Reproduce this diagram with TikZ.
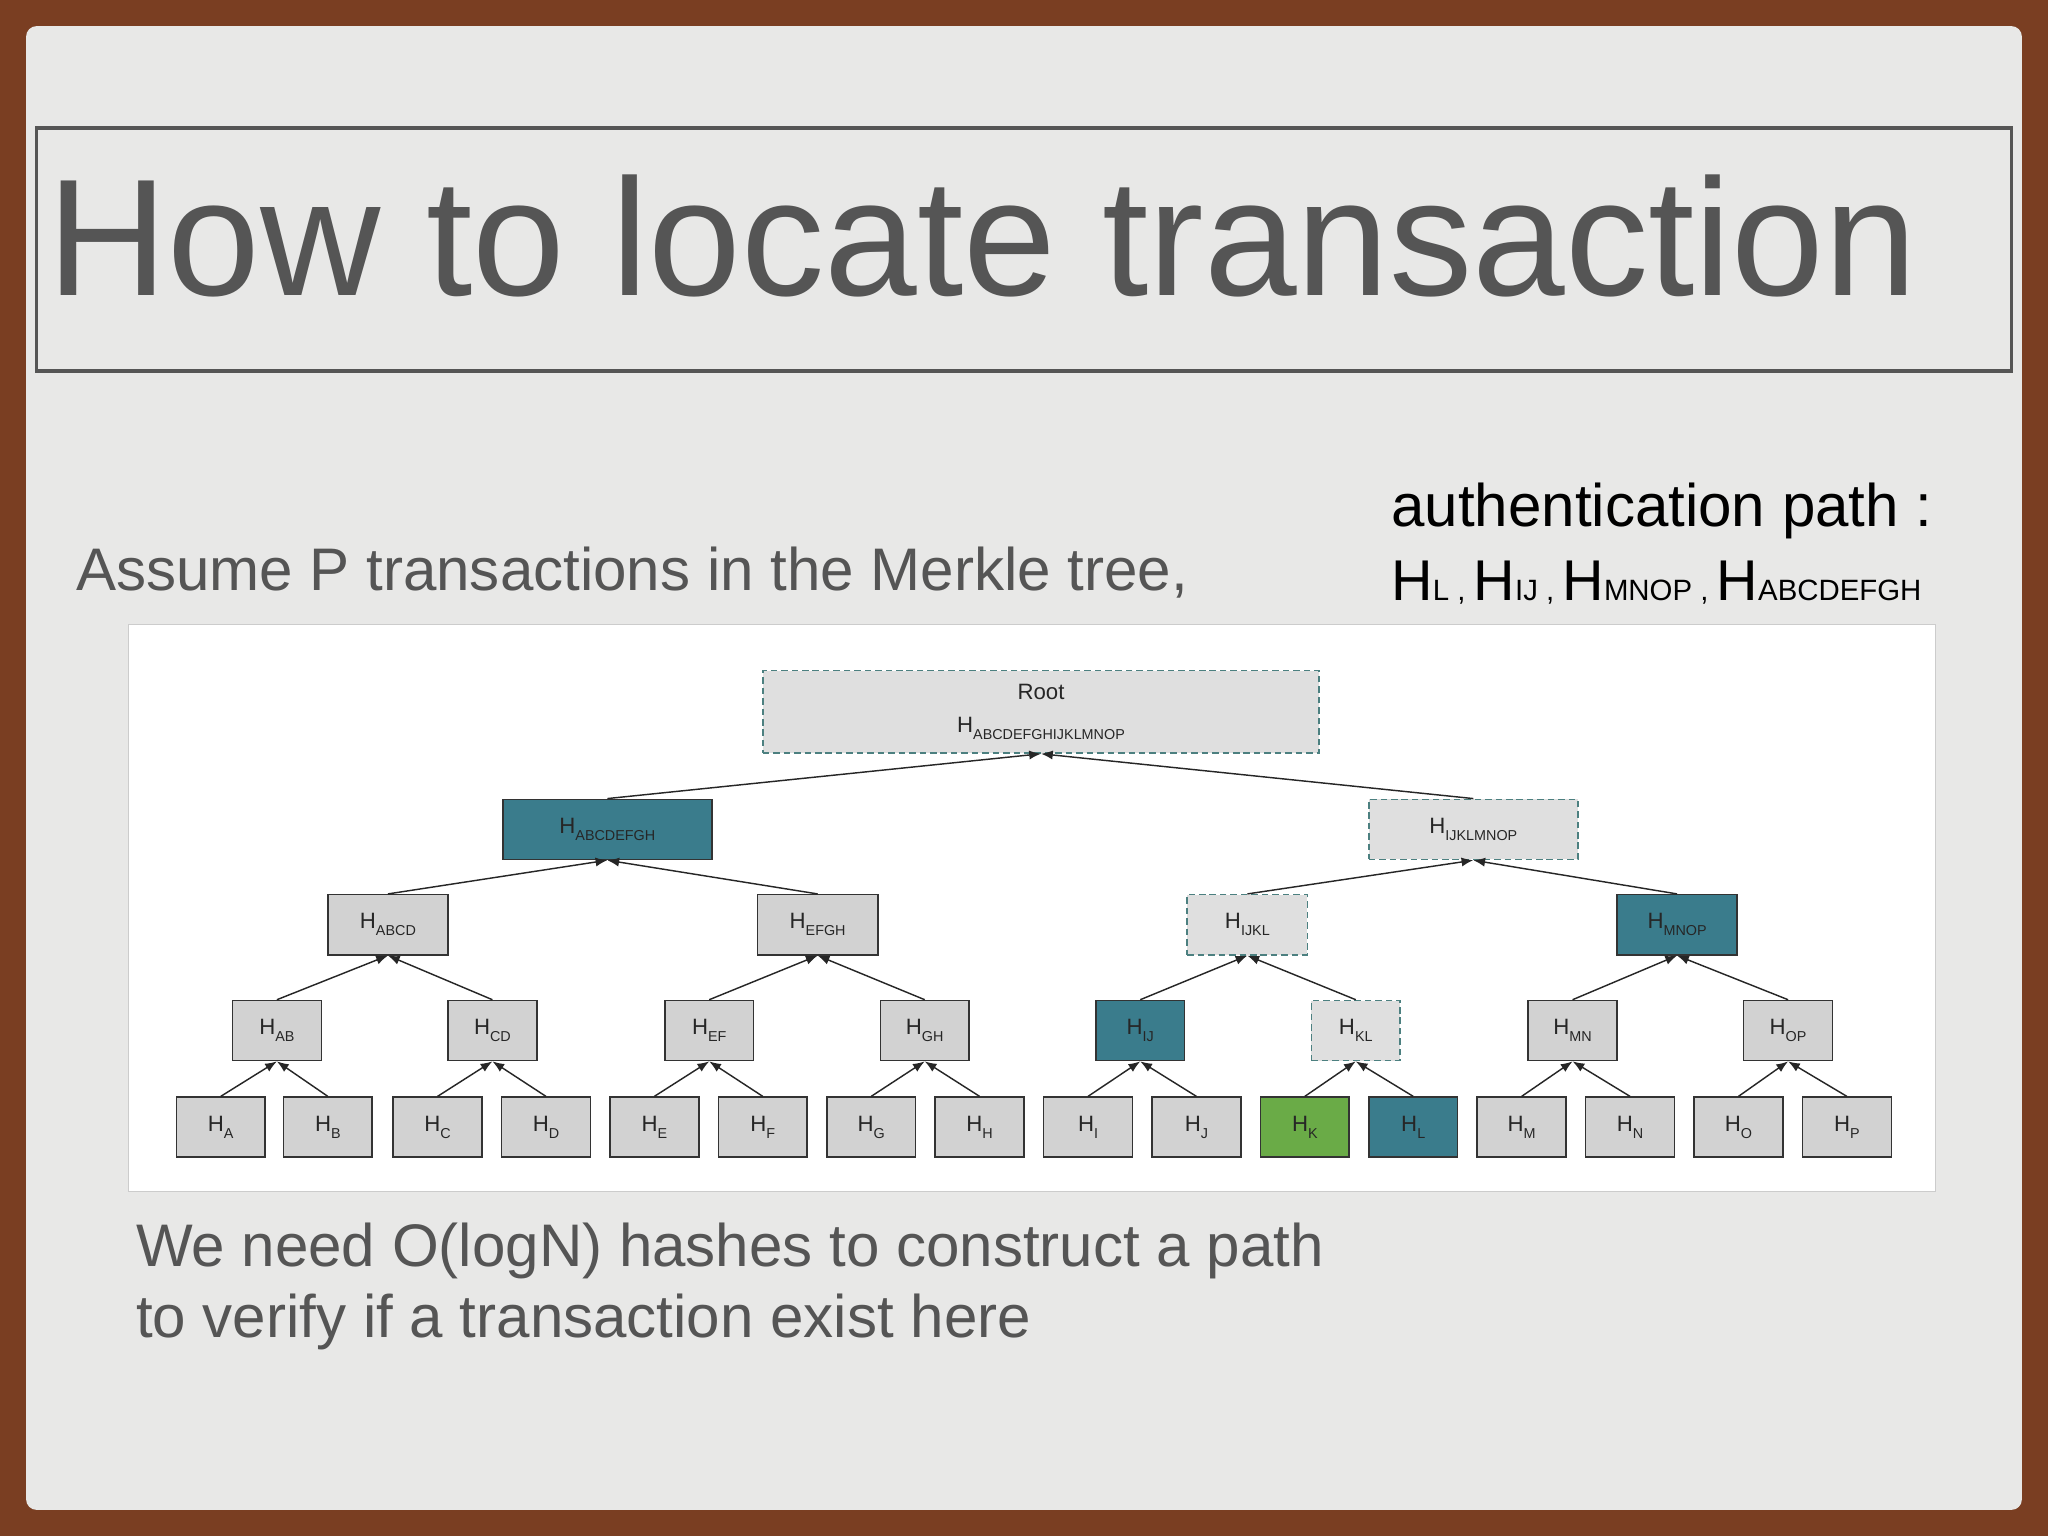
\documentclass[tikz,border=0pt]{standalone}
\usepackage{fontspec}
\setmainfont{Liberation Sans}
\begin{document}
\begin{tikzpicture}[x=1pt,y=-1pt,
 hn/.style={draw=black!80,line width=1.2pt,fill=gray!35,minimum height=46pt,inner sep=0pt,font=\fontsize{17}{17}\selectfont,text=black!85},
 leaf/.style={hn,minimum width=68pt},
 dsh/.style={dash pattern=on 5pt off 3pt,draw=gray!60!teal},
 arr/.style={-{Latex[length=9pt,width=7pt]},line width=1.1pt,black!85}]
\usetikzlibrary{arrows.meta}
\definecolor{tealc}{HTML}{3A7C8C}
\definecolor{greenc}{HTML}{6AAB47}
\definecolor{bgc}{HTML}{E8E8E7}
\definecolor{txt}{HTML}{555555}
\definecolor{brd}{HTML}{7A3E22}
\useasboundingbox (0,0) rectangle (1568,1176);
\fill[brd] (0,0) rectangle (1568,1176);
\fill[bgc,rounded corners=8pt] (20,20) rectangle (1548,1156);
\draw[txt,line width=2.5pt] (28,98) rectangle (1540,284);
\node[anchor=base west,inner sep=0,text=txt,font=\fontsize{127.5}{128}\selectfont] (title) at (36,226) {How to locate transaction};
\node[anchor=base west,inner sep=0,text=txt,font=\fontsize{46}{46}\selectfont] (assume) at (58,452) {Assume P transactions in the Merkle tree,};
\node[anchor=base west,inner sep=0,font=\fontsize{46}{46}\selectfont] (auth) at (1065,403) {authentication path :};
\node[anchor=base west,inner sep=0,font=\fontsize{44}{44}\selectfont] (path) at (1065,460) {H{\fontsize{22.5}{22}\selectfont L , }H{\fontsize{22.5}{22}\selectfont IJ , }H{\fontsize{22.5}{22}\selectfont MNOP , }H{\fontsize{22.5}{22}\selectfont ABCDEFGH}};
\fill[white] (98,478) rectangle (1482,912);
\draw[gray!40] (98,478) rectangle (1482,912);
\newcommand{\hh}[1]{H\raisebox{-0.6ex}{\fontsize{11}{11}\selectfont #1}}
\foreach \n/\x in {A/169,B/251,C/335,D/418,E/501,F/584,G/667,H/750,I/833,J/916,M/1165,N/1248,O/1331,P/1414}
  \node[leaf] (\n) at (\x,863) {\hh{\n}};
\node[leaf,fill=greenc] (K) at (999,863) {\hh{K}};
\node[leaf,fill=tealc] (L) at (1082,863) {\hh{L}};
\foreach \n/\x in {AB/212,CD/377,EF/543,GH/708,MN/1204,OP/1369}
  \node[leaf] (\n) at (\x,789) {\hh{\n}};
\node[leaf,fill=tealc] (IJ) at (873,789) {\hh{IJ}};
\node[leaf,dsh,fill=gray!25] (KL) at (1038,789) {\hh{KL}};
\node[hn,minimum width=92pt] (ABCD) at (297,708) {\hh{ABCD}};
\node[hn,minimum width=92pt] (EFGH) at (626,708) {\hh{EFGH}};
\node[hn,minimum width=92pt,dsh,fill=gray!25] (IJKL) at (955,708) {\hh{IJKL}};
\node[hn,minimum width=92pt,fill=tealc] (MNOP) at (1284,708) {\hh{MNOP}};
\node[hn,minimum width=160pt,fill=tealc] (ABCDEFGH) at (465,635) {\hh{ABCDEFGH}};
\node[hn,minimum width=160pt,dsh,fill=gray!25] (IJKLMNOP) at (1128,635) {\hh{IJKLMNOP}};
\node[hn,minimum width=426pt,minimum height=63pt,dsh,fill=gray!25,align=center] (root) at (797,545) {Root\\[8pt]\hh{ABCDEFGHIJKLMNOP}};
\foreach \c/\p in {A/AB,B/AB,C/CD,D/CD,E/EF,F/EF,G/GH,H/GH,I/IJ,J/IJ,K/KL,L/KL,M/MN,N/MN,O/OP,P/OP,
 AB/ABCD,CD/ABCD,EF/EFGH,GH/EFGH,IJ/IJKL,KL/IJKL,MN/MNOP,OP/MNOP,ABCD/ABCDEFGH,EFGH/ABCDEFGH,IJKL/IJKLMNOP,MNOP/IJKLMNOP,ABCDEFGH/root,IJKLMNOP/root}
  \draw[arr] (\c.north) -- (\p.south);
\node[anchor=base west,inner sep=0,text=txt,font=\fontsize{46}{46}\selectfont] (need) at (104,970) {We need O(logN) hashes to construct a path};
\node[anchor=base west,inner sep=0,text=txt,font=\fontsize{46}{46}\selectfont] (need2) at (104,1024) {to verify if a transaction exist here};
\end{tikzpicture}
\end{document}
